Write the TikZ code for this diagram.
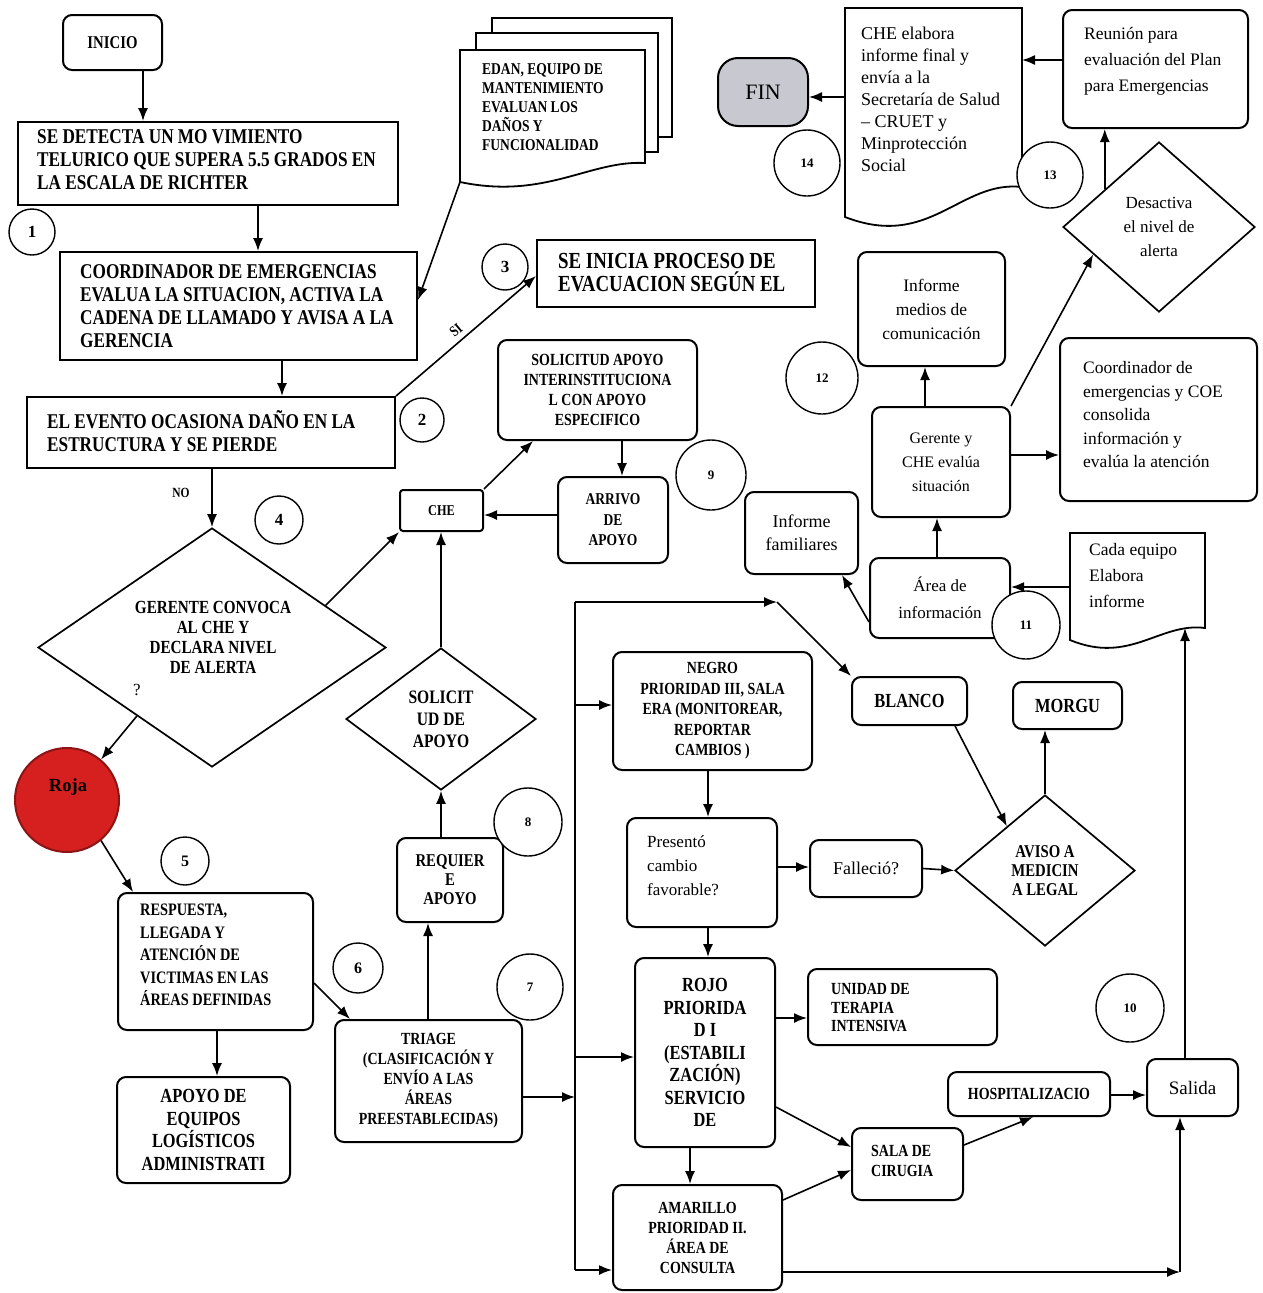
\documentclass[tikz,border=0pt]{standalone}
\usepackage{fontspec}
\setmainfont{Liberation Serif}
\newfontfamily\capfont[FakeStretch=0.82]{Liberation Serif}
\usetikzlibrary{arrows.meta,shapes.geometric,calc}
\newcommand\fc[2]{\capfont\bfseries\fontsize{#1}{#2}\selectfont}
\newcommand\fl[2]{\rmfamily\fontsize{#1}{#2}\selectfont}
\definecolor{rojafill}{RGB}{214,32,32}
\definecolor{rojaline}{RGB}{140,20,20}
\definecolor{fingray}{RGB}{200,200,208}
\tikzset{
  boxr/.style={draw, line width=2pt, rounded corners=9pt, inner sep=2pt, fill=white, align=center},
  boxs/.style={draw, line width=2pt, inner sep=2pt, fill=white, align=center},
  dmd/.style={draw, diamond, line width=1.7pt, inner sep=0pt, fill=white, align=center},
  numc/.style={draw, circle, line width=1.4pt, fill=white, inner sep=0pt},
  conn/.style={line width=1.6pt, -{Latex[length=13pt,width=10pt]}},
  trunkline/.style={line width=1.6pt},
  txtl/.style={anchor=west, align=left, inner sep=0pt},
  ghost/.style={inner sep=0pt, outer sep=0pt},
  page/.style={draw, line width=1.8pt, fill=white},
}
\begin{document}
\begin{tikzpicture}[x=1pt,y=-1pt]
\useasboundingbox (0,0) rectangle (1263,1293);
\fill[white] (0,0) rectangle (1263,1293);

% ---------- multi-page document: EDAN ----------
\draw[page] (492,18) rectangle (672,137);
\draw[page] (476,33) rectangle (658,152);
\draw[page] (460,50) -- (645,50) -- (645,163) .. controls (590,160) and (545,200) .. (460,182) -- cycle;
\node[ghost, minimum width=185, minimum height=132] (edan) at (552.5,116) {};
\node[txtl, font=\fc{16.5}{19}] (edan-t) at (482,107) {EDAN, EQUIPO DE\\MANTENIMIENTO\\EVALUAN LOS\\DAÑOS Y\\FUNCIONALIDAD};

% ---------- document: CHE final report ----------
\draw[page] (845,8) -- (1022,8) -- (1022,187) .. controls (960,180) and (930,250) .. (845,217) -- cycle;
\node[ghost, minimum width=177, minimum height=179] (cheelab) at (933.5,97.5) {};
\node[txtl, font=\fl{18}{22}] (cheelab-t) at (861,99) {CHE elabora\\informe final y\\envía a la\\Secretaría de Salud\\– CRUET y\\Minprotección\\Social};

% ---------- document: each team report ----------
\draw[page] (1070,533) -- (1205,533) -- (1205,628) .. controls (1160,622) and (1130,665) .. (1070,640) -- cycle;
\node[ghost, minimum width=135, minimum height=95] (cada) at (1137.5,580.5) {};
\node[txtl, font=\fl{17.5}{26}] (cada-t) at (1089,576) {Cada equipo\\Elabora\\informe};

% ---------- left column ----------
\node[boxr, minimum width=99, minimum height=55, font=\fc{18}{20}] (inicio) at (112.5,42.5) {INICIO};
\node[boxs, minimum width=380, minimum height=83] (detecta) at (208,163.5) {};
\node[txtl, font=\fc{21}{23}] (detecta-t) at (37,160) {SE DETECTA UN MO VIMIENTO\\TELURICO QUE SUPERA 5.5 GRADOS EN\\LA ESCALA DE RICHTER};
\node[boxs, minimum width=357, minimum height=108] (coord) at (238.5,306) {};
\node[txtl, font=\fc{21}{23}] (coord-t) at (80,306) {COORDINADOR DE EMERGENCIAS\\EVALUA LA SITUACION,  ACTIVA LA\\CADENA DE LLAMADO Y AVISA A LA\\GERENCIA};
\node[boxs, minimum width=368, minimum height=71] (evento) at (211,432.5) {};
\node[txtl, font=\fc{21}{23}] (evento-t) at (47,431) {EL EVENTO OCASIONA DAÑO EN LA\\ESTRUCTURA Y SE PIERDE};
\node[boxs, minimum width=278, minimum height=67] (inicia) at (676,273.5) {};
\node[txtl, font=\fc{23}{23}] (inicia-t) at (558,273) {SE INICIA PROCESO DE\\EVACUACION SEGÚN EL};

\node[dmd, minimum width=348, minimum height=239] (gerdiam) at (212,647.5) {};
\node[font=\fc{18.5}{20}, align=center, inner sep=0pt] (gerdiam-t) at (213,637) {GERENTE CONVOCA\\AL CHE  Y\\DECLARA NIVEL\\DE ALERTA};
\node[font=\fl{17}{17}] (qmark) at (137,690) {?};
\node[circle, draw=rojaline, fill=rojafill, line width=2pt, minimum size=104, inner sep=0pt] (roja) at (67,800) {};
\node[font=\bfseries\fl{18.5}{20}] (roja-t) at (68,787) {Roja};

\node[boxr, minimum width=195, minimum height=137] (respuesta) at (215.5,961.5) {};
\node[txtl, font=\fc{17.5}{22.5}] (respuesta-t) at (140,955) {RESPUESTA,\\LLEGADA Y\\ATENCIÓN DE\\VICTIMAS EN LAS\\ÁREAS DEFINIDAS};
\node[boxr, minimum width=173, minimum height=106, font=\fc{20}{22.5}] (apoyoeq) at (203.5,1130) {APOYO DE\\EQUIPOS\\LOGÍSTICOS\\ADMINISTRATI};
\node[boxr, minimum width=187, minimum height=122, font=\fc{17}{20}] (triage) at (428.5,1081) {TRIAGE\\(CLASIFICACIÓN Y\\ENVÍO A LAS\\ÁREAS\\PREESTABLECIDAS)};
\node[boxr, minimum width=106, minimum height=84, font=\fc{18}{19}] (requiere) at (450,880) {REQUIER\\E\\APOYO};
\node[dmd, minimum width=190, minimum height=142, font=\fc{19}{22}] (soldiam) at (441,719) {SOLICIT\\UD DE\\APOYO};
\node[boxs, rounded corners=3pt, minimum width=83, minimum height=41, font=\fc{15}{17}] (che) at (441.5,510.5) {CHE};
\node[boxr, minimum width=199, minimum height=100, font=\fc{17}{20}] (solap) at (597.5,390) {SOLICITUD APOYO\\INTERINSTITUCIONA\\L CON APOYO\\ESPECIFICO};
\node[boxr, minimum width=110, minimum height=86, font=\fc{16.5}{20.5}] (arrivo) at (613,520) {ARRIVO\\DE\\APOYO};

% ---------- middle column ----------
\node[boxr, minimum width=199, minimum height=118, font=\fc{17}{20.5}] (negro) at (712.5,711) {NEGRO\\PRIORIDAD III, SALA\\ERA (MONITOREAR,\\REPORTAR\\CAMBIOS )};
\node[boxr, minimum width=150, minimum height=109] (presento) at (702,872.5) {};
\node[txtl, font=\fl{17}{24}] (presento-t) at (647,866) {Presentó\\cambio\\favorable?};
\node[boxr, minimum width=140, minimum height=189, font=\fc{20}{22.5}] (rojo) at (705,1052.5) {ROJO\\PRIORIDA\\D I\\(ESTABILI\\ZACIÓN)\\SERVICIO\\DE};
\node[boxr, minimum width=169, minimum height=105, font=\fc{17}{20}] (amarillo) at (697.5,1237.5) {AMARILLO\\PRIORIDAD II.\\ÁREA DE\\CONSULTA};
\node[boxr, minimum width=112, minimum height=57, font=\fl{18}{20}] (fallecio) at (866,868.5) {Falleció?};
\node[boxr, minimum width=115, minimum height=48, font=\fc{20}{22}] (blanco) at (909.5,701) {BLANCO};
\node[boxr, minimum width=109, minimum height=47, font=\fc{20}{22}] (morgu) at (1067.5,705.5) {MORGU};
\node[dmd, minimum width=180, minimum height=151, font=\fc{18}{19}] (aviso) at (1045,870.5) {AVISO A\\MEDICIN\\A LEGAL};
\node[boxr, minimum width=189, minimum height=76] (unidad) at (902.5,1007) {};
\node[txtl, font=\fc{17}{18.5}] (unidad-t) at (831,1008) {UNIDAD DE\\TERAPIA\\INTENSIVA};
\node[boxr, minimum width=162, minimum height=44, font=\fc{17}{18}] (hosp) at (1029,1094) {HOSPITALIZACIO};
\node[boxr, minimum width=111, minimum height=72] (sala) at (907.5,1164) {};
\node[txtl, font=\fc{17}{20}] (sala-t) at (871,1161) {SALA DE\\CIRUGIA};
\node[boxr, minimum width=91, minimum height=57, font=\fl{19}{20}] (salida) at (1192.5,1087.5) {Salida};

% ---------- right column ----------
\node[boxr, fill=fingray, rounded corners=20pt, minimum width=90, minimum height=68, font=\fl{22}{24}] (fin) at (763,92) {FIN};
\node[boxr, minimum width=185, minimum height=118] (reunion) at (1155.5,69) {};
\node[txtl, font=\fl{17.5}{26}] (reunion-t) at (1084,61) {Reunión para\\evaluación del Plan\\para Emergencias};
\node[dmd, minimum width=192, minimum height=170, font=\fl{17}{24}] (desactiva) at (1159,227) {Desactiva\\el nivel de\\alerta};
\node[boxr, minimum width=147, minimum height=114, font=\fl{17.5}{24}] (medios) at (931.5,309) {Informe\\medios de\\comunicación};
\node[boxr, minimum width=138, minimum height=110, font=\fl{16}{24}] (gerente) at (941,462) {Gerente y\\CHE evalúa\\situación};
\node[boxr, minimum width=197, minimum height=163] (coordinador) at (1158.5,419.5) {};
\node[txtl, font=\fl{17.5}{23.5}] (coordinador-t) at (1083,415) {Coordinador de\\emergencias y COE\\consolida\\información y\\evalúa la atención};
\node[boxr, minimum width=140, minimum height=80, font=\fl{17}{27}] (area) at (940,598) {Área de\\información};
\node[boxr, minimum width=113, minimum height=82, font=\fl{18}{23}] (infofam) at (801.5,533) {Informe\\familiares};

% ---------- connectors ----------
\draw[conn] (143,0 |- inicio.south) -- (143,0 |- detecta.north);
\draw[conn] (258,0 |- detecta.south) -- (258,0 |- coord.north);
\draw[conn] (edan.south west) -- (coord.east |- 0,300);
\draw[conn] (282,0 |- coord.south) -- (282,0 |- evento.north);
\draw[conn] (evento.north east) -- (inicia.west |- 0,276);
\node[rotate=40, inner sep=0pt, font=\fc{15}{15}] (si) at (456,330) {SI};
\draw[conn] (gerdiam.north |- evento.south) -- (gerdiam.north);
\node[font=\fc{14}{14}] (no) at (181,493) {NO};
\draw[conn] ($(gerdiam.north)!0.65!(gerdiam.east)$) -- (che.south west);
\draw[conn] ($(gerdiam.west)!0.57!(gerdiam.south)$) -- (roja.50);
\draw[conn] (roja.-50) -- (133,0 |- respuesta.north);
\draw[conn] (217,0 |- respuesta.south) -- (217,0 |- apoyoeq.north);
\draw[conn] (respuesta.east |- 0,983) -- (350,0 |- triage.north);
\draw[conn] (428,0 |- triage.north) -- (428,0 |- requiere.south);
\draw[conn] (requiere.north -| soldiam.south) -- (soldiam.south);
\draw[conn] (soldiam.north) -- (soldiam.north |- che.south);
\draw[conn] (che.north east) -- (533,0 |- solap.south);
\draw[conn] (622,0 |- solap.south) -- (622,0 |- arrivo.north);
\draw[conn] (arrivo.west |- 0,515) -- (che.east |- 0,515);

% distribution line after triage
\coordinate (tk-top) at (575,602);
\coordinate (tk-bot) at (575,1270);
\coordinate (tk-bend) at (777,602);
\draw[trunkline] (tk-top) -- (tk-bot);
\draw[conn] (triage.east |- 0,1097) -- (tk-top |- 0,1097);
\draw[conn] (tk-top) -- (tk-bend);
\draw[conn] (tk-bend) -- (blanco.north west);
\draw[conn] (tk-top |- 0,705) -- (negro.west |- 0,705);
\draw[conn] (tk-top |- 0,1057) -- (rojo.west |- 0,1057);
\draw[conn] (tk-bot) -- (amarillo.west |- tk-bot);

\draw[conn] (708,0 |- negro.south) -- (708,0 |- presento.north);
\draw[conn] (presento.east |- 0,867) -- (fallecio.west |- 0,867);
\draw[conn] (fallecio.east) -- (aviso.west);
\draw[conn] (955,0 |- blanco.south) -- ($(aviso.north)!0.42!(aviso.west)$);
\draw[conn] (aviso.north) -- (aviso.north |- morgu.south);
\draw[conn] (708,0 |- presento.south) -- (708,0 |- rojo.north);
\draw[conn] (rojo.east |- 0,1018) -- (unidad.west |- 0,1018);
\draw[conn] (690,0 |- rojo.south) -- (690,0 |- amarillo.north);
\draw[conn] (rojo.east |- 0,1107) -- (sala.west |- 0,1147);
\draw[conn] (amarillo.east |- 0,1200) -- (sala.west |- 0,1170);
\draw[conn] (sala.east |- 0,1145) -- (1033,0 |- hosp.south);
\draw[conn] (hosp.east |- 0,1095) -- (salida.west |- 0,1095);
\coordinate (sal-corner) at (1180,1272);
\draw[conn] (amarillo.east |- sal-corner) -- (sal-corner);
\draw[conn] (sal-corner) -- (sal-corner |- salida.south);
\draw[conn] (1185,0 |- salida.north) -- (1185,0 |- cada.south);
\draw[conn] (cada.west |- 0,587) -- (area.east |- 0,587);
\draw[conn] (area.west |- 0,622) -- (842,0 |- infofam.south);
\draw[conn] (937,0 |- area.north) -- (937,0 |- gerente.south);
\draw[conn] (925,0 |- gerente.north) -- (925,0 |- medios.south);
\draw[conn] (gerente.east |- 0,455) -- (coordinador.west |- 0,455);
\draw[conn] (gerente.north east) -- ($(desactiva.west)!0.32!(desactiva.south)$);
\coordinate (dsa) at ($(desactiva.west)!0.44!(desactiva.north)$);
\draw[conn] (dsa) -- (dsa |- reunion.south);
\draw[conn] (reunion.west |- 0,60) -- (cheelab.east |- 0,60);
\draw[conn] (cheelab.west |- 0,97) -- (fin.east |- 0,97);

% ---------- step numbers ----------
\node[numc, minimum size=46, font=\bfseries\fl{17}{17}] (n1) at (32,232) {1};
\node[numc, minimum size=44, font=\bfseries\fl{17}{17}] (n2) at (422,420) {2};
\node[numc, minimum size=46, font=\bfseries\fl{17}{17}] (n3) at (505,267) {3};
\node[numc, minimum size=48, font=\bfseries\fl{17}{17}] (n4) at (279,520) {4};
\node[numc, minimum size=48, font=\bfseries\fl{16}{16}] (n5) at (185,861) {5};
\node[numc, minimum size=50, font=\bfseries\fl{16}{16}] (n6) at (358,968) {6};
\node[numc, minimum size=66, font=\bfseries\fl{13}{13}] (n7) at (530,987) {7};
\node[numc, minimum size=68, font=\bfseries\fl{13}{13}] (n8) at (528,822) {8};
\node[numc, minimum size=70, font=\bfseries\fl{13}{13}] (n9) at (711,475) {9};
\node[numc, minimum size=68, font=\bfseries\fl{13}{13}] (n10) at (1130,1008) {10};
\node[numc, minimum size=68, font=\bfseries\fl{13}{13}] (n11) at (1026,625) {11};
\node[numc, minimum size=72, font=\bfseries\fl{13}{13}] (n12) at (822,378) {12};
\node[numc, minimum size=66, font=\bfseries\fl{13}{13}] (n13) at (1050,175) {13};
\node[numc, minimum size=66, font=\bfseries\fl{13}{13}] (n14) at (807,163) {14};
\end{tikzpicture}
\end{document}
